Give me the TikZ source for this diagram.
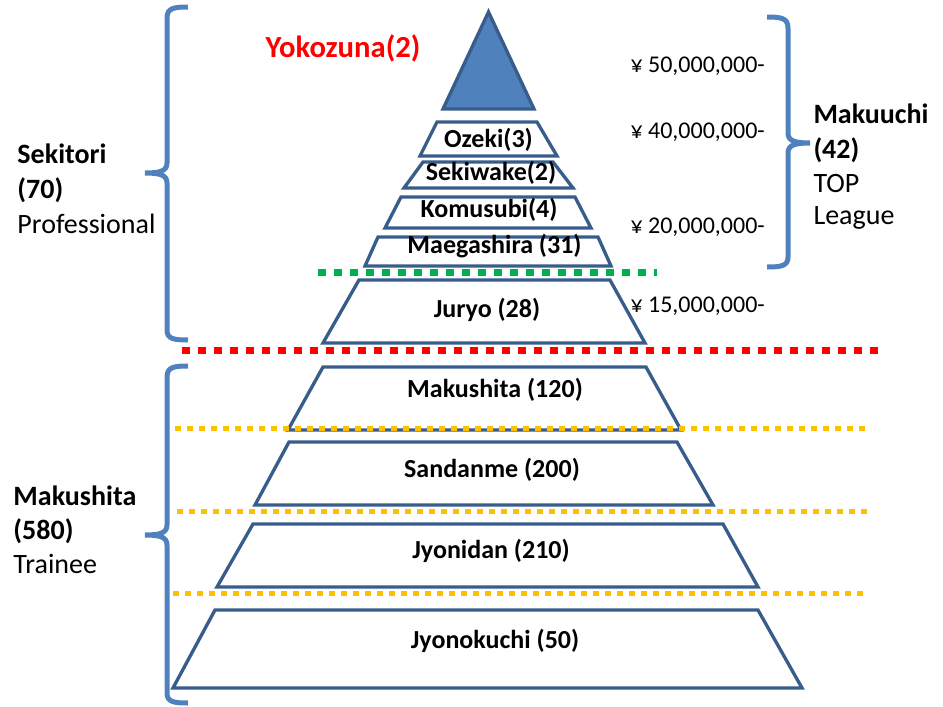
\documentclass[tikz,border=0pt]{standalone}
\usepackage{fontspec}
\setmainfont{Carlito}
\definecolor{tierline}{RGB}{56,93,138}
\definecolor{tierfill}{RGB}{79,129,189}
\definecolor{bracecol}{RGB}{79,129,189}
\definecolor{dotred}{RGB}{255,0,0}
\definecolor{dotgreen}{RGB}{0,176,80}
\definecolor{dotyellow}{RGB}{255,192,0}

\tikzset{every picture/.style={line width=0.75pt},
  tier/.style={draw=tierline, fill=white, line width=2.5pt},
  bracket/.style={draw=bracecol, line width=3.75pt},
  tierlbl/.style={anchor=base, inner sep=0.75pt, font=\fontsize{19.5}{23}\selectfont\bfseries},
  sidehead/.style={anchor=base west, inner sep=0pt, font=\fontsize{21}{25}\selectfont\bfseries},
  sidesub/.style={anchor=base west, inner sep=0pt, font=\fontsize{21}{25}\selectfont},
  yen/.style={anchor=base west, inner sep=0pt, font=\fontsize{18}{22}\selectfont},
  reddots/.style={draw=dotred, line width=5.25pt, dash pattern=on 6pt off 6pt},
  greendots/.style={draw=dotgreen, line width=5.25pt, dash pattern=on 6pt off 6pt},
  yellowdots/.style={draw=dotyellow, line width=3.75pt, dash pattern=on 4.5pt off 4.5pt}}

\begin{document}
\begin{tikzpicture}[x=0.75pt,y=0.75pt,yscale=-1,xscale=1]
\useasboundingbox (0,0) rectangle (943,707);

%Triangle: Yokozuna
\draw [draw=tierline, fill=tierfill, line width=2.5pt] (488.5,12) -- (534,109) -- (443,109) -- cycle ;

%Trapezoids: Makuuchi ranks
\draw [tier] (437,122) -- (537,122) -- (557,156) -- (420,156) -- cycle ;
\draw [tier] (423,162) -- (553,162) -- (573,188) -- (404,188) -- cycle ;
\draw [tier] (401,197) -- (575,197) -- (591,228) -- (385,228) -- cycle ;
\draw [tier] (378,237) -- (598,237) -- (611,266) -- (365,266) -- cycle ;
%Trapezoid: Juryo
\draw [tier] (359,280) -- (610,280) -- (645,343) -- (323,343) -- cycle ;
%Trapezoids: lower divisions
\draw [tier] (323,367) -- (646,367) -- (681,430) -- (288,430) -- cycle ;
\draw [tier] (289,442) -- (677,442) -- (713,505) -- (255,505) -- cycle ;
\draw [tier] (253,524) -- (723,524) -- (758,587) -- (217,587) -- cycle ;
\draw [tier] (215,610) -- (758,610) -- (802,688) -- (173,688) -- cycle ;

%Dotted dividers
\draw [greendots] (318,272) -- (657,272) ;
\draw [reddots] (182,350) -- (880,350) ;
\draw [yellowdots] (175,428) -- (870,428) ;
\draw [yellowdots] (177,511) -- (870,511) ;
\draw [yellowdots] (173,593) -- (868,593) ;

%Left Brace: Sekitori
\draw [bracket] (188,7) .. controls (174,7) and (167,8) .. (167,18) -- (167,163) .. controls (167,171) and (160,173) .. (145,173) .. controls (160,173) and (167,175) .. (167,183) -- (167,330) .. controls (167,339) and (174,340) .. (188,340) ;
%Left Brace: Makushita
\draw [bracket] (188,366) .. controls (174,366) and (167,367) .. (167,377) -- (167,525) .. controls (167,533) and (160,535) .. (145,535) .. controls (160,535) and (167,537) .. (167,545) -- (167,693) .. controls (167,702) and (174,703) .. (188,703) ;
%Right Brace: Makuuchi
\draw [bracket] (767,17) .. controls (781,17) and (788,18) .. (788,28) -- (788,133) .. controls (788,141) and (795,143) .. (810,143) .. controls (795,143) and (788,145) .. (788,153) -- (788,257) .. controls (788,266) and (781,267) .. (767,267) ;

% Text Node
\draw (343,57) node [anchor=base, inner sep=0.75pt, font=\fontsize{23}{27}\selectfont\bfseries, text=dotred] (yokozuna) {Yokozuna(2)};
% Tier labels
\draw (488.5,147) node [tierlbl] (ozeki) {Ozeki(3)};
\draw (491,180) node [tierlbl] (sekiwake) {Sekiwake(2)};
\draw (489,217) node [tierlbl] (komusubi) {Komusubi(4)};
\draw (494.5,253) node [tierlbl] (maegashira) {Maegashira (31)};
\draw (487,317) node [tierlbl] (juryo) {Juryo (28)};
\draw (495,397) node [tierlbl] (makushita) {Makushita (120)};
\draw (492,477) node [tierlbl] (sandanme) {Sandanme (200)};
\draw (491,558) node [tierlbl] (jyonidan) {Jyonidan (210)};
\draw (495,648) node [tierlbl] (jyonokuchi) {Jyonokuchi (50)};

% Salary labels
\draw (630,72) node [yen] (pay50) {¥ 50,000,000-};
\draw (630,138) node [yen] (pay40) {¥ 40,000,000-};
\draw (630,233) node [yen] (pay20) {¥ 20,000,000-};
\draw (630,312) node [yen] (pay15) {¥ 15,000,000-};

% Side labels: Sekitori
\draw (17,163) node [sidehead] (sekitori) {Sekitori};
\draw (17,198) node [sidehead] (sekitorin) {(70)};
\draw (17,233) node [sidesub] (sekitorisub) {Professional};
% Side labels: Makushita
\draw (13,505) node [sidehead] (trainee) {Makushita};
\draw (13,539) node [sidehead] (traineen) {(580)};
\draw (13,573) node [sidesub] (traineesub) {Trainee};
% Side labels: Makuuchi
\draw (813,123) node [sidehead] (makuuchi) {Makuuchi};
\draw (813,158) node [sidehead] (makuuchin) {(42)};
\draw (813,192) node [sidesub] (makuuchitop) {TOP};
\draw (813,224) node [sidesub] (makuuchisub) {League};

\end{tikzpicture}
\end{document}
